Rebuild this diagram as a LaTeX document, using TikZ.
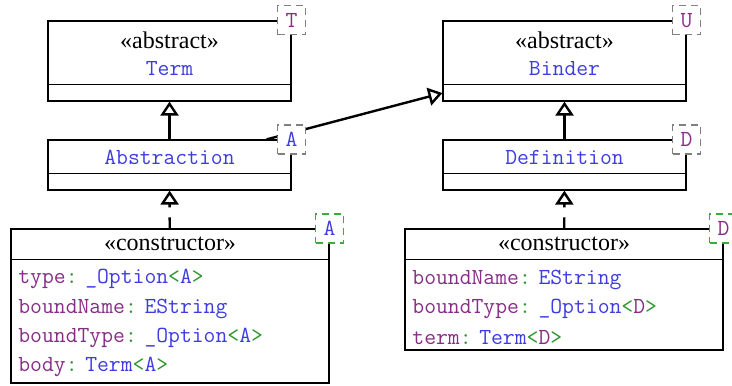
\documentclass[tikz,border=0pt]{standalone}
\usepackage{fontspec}
\setmainfont{Liberation Serif}
\usetikzlibrary{arrows.meta,calc}

\definecolor{clsblue}{RGB}{60,60,225}
\definecolor{prmpurple}{RGB}{135,45,135}
\definecolor{pctgreen}{RGB}{45,150,45}
\definecolor{tplgreen}{RGB}{60,170,60}

% small helpers for the coloured code text
\newcommand{\cname}[1]{\textcolor{clsblue}{\texttt{#1}}}
\newcommand{\pname}[1]{\textcolor{prmpurple}{\texttt{#1}}}
\newcommand{\fieldof}[2]{\pname{#1}\textcolor{pctgreen}{\texttt{:}} #2}
\newcommand{\genof}[1]{\textcolor{pctgreen}{\texttt{<}}#1\textcolor{pctgreen}{\texttt{>}}}

\begin{document}
\begin{tikzpicture}[x=0.5pt,y=-0.5pt]
    \tikzstyle{umlbox}=[draw,line width=0.6pt,inner sep=0pt,minimum width=121.5pt]
    \tikzstyle{ctorbox}=[umlbox,minimum width=159pt]
    \tikzstyle{stereo}=[inner sep=0pt,font=\fontsize{12}{14}\selectfont]
    \tikzstyle{clsname}=[inner sep=0pt,font=\fontsize{11.5}{13}\selectfont]
    \tikzstyle{attr}=[inner sep=0pt,anchor=west,font=\fontsize{11.5}{13}\selectfont]
    \tikzstyle{tplbox}=[draw=gray,dash pattern=on 3.5pt off 2.5pt,fill=white,line width=0.6pt,
        minimum width=14pt,minimum height=14.5pt,inner sep=0pt,font=\fontsize{11.5}{13}\selectfont]
    \tikzstyle{ctortpl}=[tplbox,draw=tplgreen]
    \tikzstyle{inherit}=[-{Triangle[open,length=7pt,width=9pt]},line width=1.2pt]
    \tikzstyle{realize}=[inherit,dash pattern=on 5.5pt off 5pt]

    \useasboundingbox (0,0) rectangle (732,385);

    % Draw the class boxes
    \node[umlbox,minimum height=40pt] (Term) at (169.5,61) {};
    \node[umlbox,minimum height=25pt] (Abstraction) at (169.5,165) {};
    \node[umlbox,minimum height=40pt] (Binder) at (564.5,61) {};
    \node[umlbox,minimum height=25pt] (Definition) at (564.5,165) {};
    \node[ctorbox,minimum height=77pt] (Ctor-A) at (170,306) {};
    \node[ctorbox,minimum height=60.5pt] (Ctor-D) at (564,289.5) {};

    % compartment lines
    \draw[line width=0.6pt] ($(Term.south west)+(0,-17)$) -- ($(Term.south east)+(0,-17)$);
    \draw[line width=0.6pt] ($(Abstraction.south west)+(0,-17)$) -- ($(Abstraction.south east)+(0,-17)$);
    \draw[line width=0.6pt] ($(Binder.south west)+(0,-17)$) -- ($(Binder.south east)+(0,-17)$);
    \draw[line width=0.6pt] ($(Definition.south west)+(0,-17)$) -- ($(Definition.south east)+(0,-17)$);
    \draw[line width=0.6pt] ($(Ctor-A.north west)+(0,31)$) -- ($(Ctor-A.north east)+(0,31)$);
    \draw[line width=0.6pt] ($(Ctor-D.north west)+(0,31)$) -- ($(Ctor-D.north east)+(0,31)$);

    % Names
    \node[stereo] (Term-st) at (169.5,40) {«abstract»};
    \node[clsname] (Term-nm) at (169.5,69) {\cname{Term}};
    \node[clsname] (Abstraction-nm) at (169.5,157) {\cname{Abstraction}};
    \node[stereo] (Binder-st) at (564.5,40) {«abstract»};
    \node[clsname] (Binder-nm) at (564.5,69) {\cname{Binder}};
    \node[clsname] (Definition-nm) at (564.5,157) {\cname{Definition}};
    \node[stereo] (Ctor-A-st) at (170,244) {«constructor»};
    \node[stereo] (Ctor-D-st) at (564,244) {«constructor»};

    % Attributes
    \node[attr] (A-type) at (18,279) {\fieldof{type}{\cname{\_Option}\genof{\cname{A}}}};
    \node[attr] (A-name) at (18,308.5) {\fieldof{boundName}{\cname{EString}}};
    \node[attr] (A-btype) at (18,338) {\fieldof{boundType}{\cname{\_Option}\genof{\cname{A}}}};
    \node[attr] (A-body) at (18,367) {\fieldof{body}{\cname{Term}\genof{\cname{A}}}};
    \node[attr] (D-name) at (412,279.5) {\fieldof{boundName}{\cname{EString}}};
    \node[attr] (D-btype) at (412,308.5) {\fieldof{boundType}{\cname{\_Option}\genof{\pname{D}}}};
    \node[attr] (D-term) at (412,338) {\fieldof{term}{\cname{Term}\genof{\pname{D}}}};

    % Relations
    \draw[inherit] (Abstraction) -- (Term);
    \draw[inherit] (Definition) -- (Binder);
    \draw[inherit] (Abstraction) -- (Binder);
    \draw[realize] (Ctor-A) -- (Abstraction);
    \draw[realize] (Ctor-D) -- (Definition);

    % Template parameters
    \node[tplbox] (Term-T) at (Term.north east) {\pname{T}};
    \node[tplbox] (Abstraction-A) at (Abstraction.north east) {\cname{A}};
    \node[tplbox] (Binder-U) at (Binder.north east) {\pname{U}};
    \node[tplbox] (Definition-D) at (Definition.north east) {\pname{D}};
    \node[ctortpl] (Ctor-A-A) at (Ctor-A.north east) {\cname{A}};
    \node[ctortpl] (Ctor-D-D) at (Ctor-D.north east) {\pname{D}};
\end{tikzpicture}
\end{document}
